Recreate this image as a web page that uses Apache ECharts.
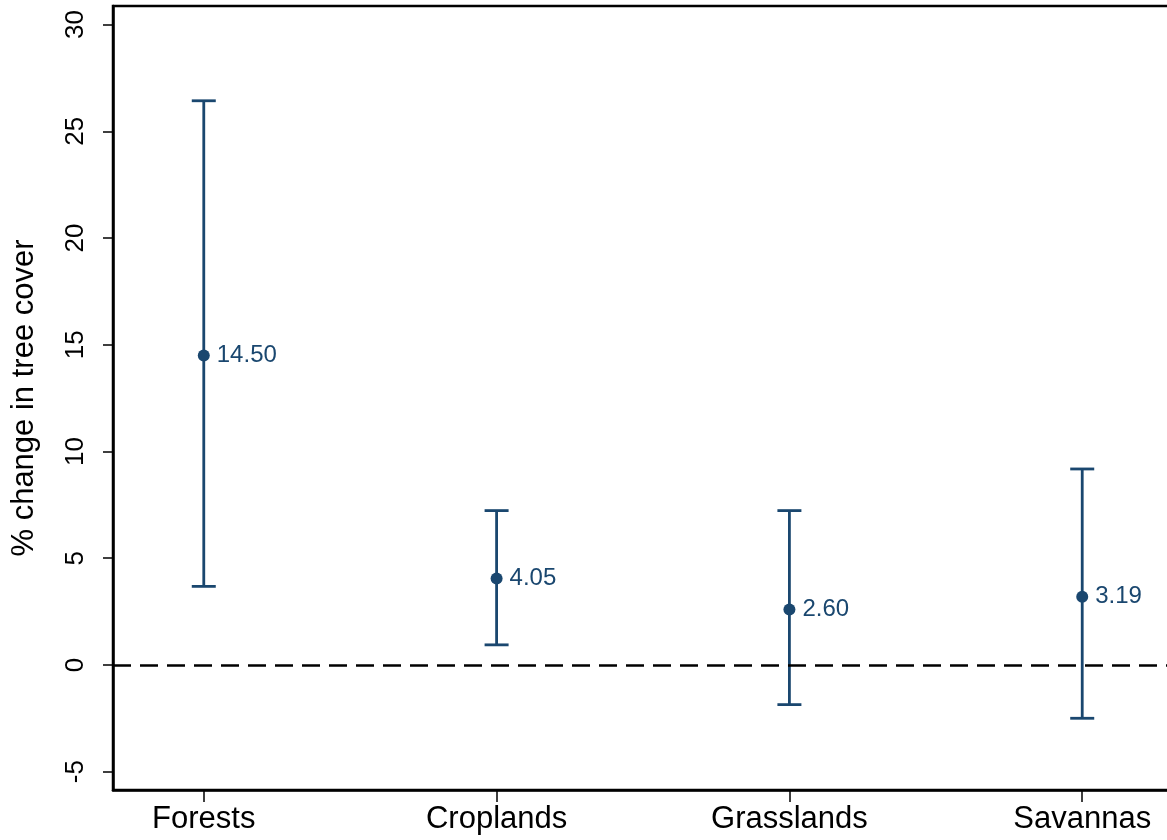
<!DOCTYPE html>
<html>
<head>
<meta charset="utf-8">
<script src="https://cdn.jsdelivr.net/npm/echarts@6/dist/echarts.min.js"></script>
<style>html,body{margin:0;padding:0;background:#fff}#c{width:1167px;height:840px}</style>
</head>
<body>
<div id="c"></div>
<script>
const categories = ['Forests', 'Croplands', 'Grasslands', 'Savannas'];
const positions = [1, 2, 3, 4];
const estimates = [14.50, 4.05, 2.60, 3.19];
const lowerCI = [3.68, 0.94, -1.86, -2.50];
const upperCI = [26.43, 7.23, 7.23, 9.18];
const yTicks = [-5, 0, 5, 10, 15, 20, 25, 30];

const navy = '#1a476f';
const font = '"Liberation Sans", Arial, sans-serif';

const chart = echarts.init(document.getElementById('c'), null, {renderer: 'canvas'});

const ciData = positions.map((p, i) => [p, lowerCI[i], upperCI[i]]);
const pointData = positions.map((p, i) => [p, estimates[i]]);

chart.setOption({
  animation: false,
  backgroundColor: '#fff',
  grid: {
    left: 113, top: 6, right: -6, bottom: 50,
    containLabel: false,
    outerBoundsMode: 'none',
    show: true, borderColor: '#000', borderWidth: 2.5, backgroundColor: 'transparent'
  },
  xAxis: {
    type: 'value', min: 0.69, max: 4.31,
    splitLine: {show: false},
    axisLine: {show: true, onZero: false, lineStyle: {color: '#000', width: 2.5}},
    axisTick: {show: true, length: 12, customValues: positions, lineStyle: {color: '#000', width: 1.5}},
    axisLabel: {
      customValues: positions,
      margin: 14,
      color: '#000', fontSize: 31, fontFamily: font,
      formatter: v => categories[positions.indexOf(Math.round(v))] || ''
    }
  },
  yAxis: {
    type: 'value', min: -5.86, max: 30.87,
    name: '% change in tree cover',
    nameLocation: 'middle', nameGap: 73, nameRotate: 90,
    nameTextStyle: {color: '#000', fontSize: 31, fontFamily: font},
    splitLine: {show: false},
    axisLine: {show: true, onZero: false, lineStyle: {color: '#000', width: 2.5}},
    axisTick: {show: true, length: 10, customValues: yTicks, lineStyle: {color: '#000', width: 1.5}},
    axisLabel: {
      customValues: yTicks,
      rotate: 90, margin: 24,
      color: '#000', fontSize: 26, fontFamily: font,
      formatter: v => String(Math.round(v))
    }
  },
  series: [
    {
      type: 'custom',
      data: ciData,
      encode: {x: 0, y: [1, 2]},
      renderItem: function (params, api) {
        const x = api.value(0);
        const lo = api.coord([x, api.value(1)]);
        const hi = api.coord([x, api.value(2)]);
        const hw = 12;
        const style = {stroke: navy, lineWidth: 2.8, fill: null};
        return {
          type: 'group',
          children: [
            {type: 'line', shape: {x1: lo[0], y1: lo[1], x2: hi[0], y2: hi[1]}, style: style},
            {type: 'line', shape: {x1: hi[0] - hw, y1: hi[1], x2: hi[0] + hw, y2: hi[1]}, style: style},
            {type: 'line', shape: {x1: lo[0] - hw, y1: lo[1], x2: lo[0] + hw, y2: lo[1]}, style: style}
          ]
        };
      },
      z: 2
    },
    {
      type: 'scatter',
      data: pointData,
      symbol: 'circle',
      symbolSize: 12,
      itemStyle: {color: navy, opacity: 1},
      label: {
        show: true, position: 'right', distance: 7,
        color: navy, fontSize: 24, fontFamily: font, opacity: 1,
        formatter: p => p.value[1].toFixed(2)
      },
      markLine: {
        silent: true,
        symbol: 'none',
        label: {show: false},
        lineStyle: {color: '#000', width: 2.5, type: [18, 9], opacity: 1},
        data: [{yAxis: 0}]
      },
      z: 3
    }
  ]
});
</script>
</body>
</html>
